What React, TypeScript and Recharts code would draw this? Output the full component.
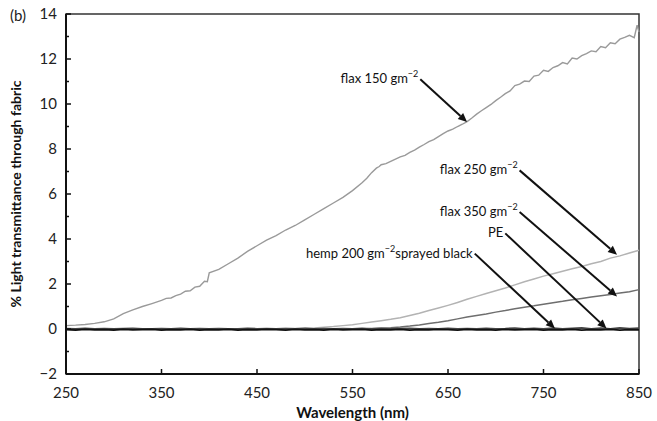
import React from 'react';
import { LineChart, Line, XAxis, YAxis, ReferenceArea, ReferenceLine } from 'recharts';

// wavelength grid (nm)
const wavelengths = [
  250, 260, 270, 280, 290, 300, 310, 320, 330, 340, 350, 360, 370, 380, 390, 400,
  410, 420, 430, 440, 450, 460, 470, 480, 490, 500, 510, 520, 530, 540, 550, 560,
  570, 580, 590, 600, 610, 620, 630, 640, 650, 660, 670, 680, 690, 700, 710, 720,
  730, 740, 750, 760, 770, 780, 790, 800, 810, 820, 830, 840, 850,
];

// flax 150 is noisier, so it is read at a finer step
const wavelengths150 = [
  250, 260, 270, 280, 290, 300, 310, 320, 330, 340, 350, 355, 360, 365, 370, 375,
  380, 385, 390, 395, 398, 400, 410, 420, 430, 440, 450, 460, 470, 480, 490, 500,
  510, 520, 530, 540, 550, 560, 565, 570, 575, 578, 580, 585, 590, 595, 600, 605,
  610, 615, 620, 625, 630, 635, 640, 645, 650, 655, 660, 665, 670, 675, 680, 685,
  690, 695, 700, 705, 710, 715, 720, 725, 730, 735, 740, 745, 750, 755, 760, 765,
  770, 775, 780, 785, 790, 795, 800, 805, 810, 815, 820, 825, 830, 835, 840, 845,
  848, 850,
];

const flax150 = [
  0.15, 0.17, 0.2, 0.25, 0.32, 0.45, 0.68, 0.85, 1.0, 1.13, 1.27, 1.36, 1.38, 1.48, 1.55, 1.68,
  1.7, 1.86, 1.9, 2.12, 2.1, 2.5, 2.65, 2.9, 3.15, 3.45, 3.7, 3.95, 4.15, 4.4, 4.6, 4.85,
  5.1, 5.35, 5.6, 5.85, 6.15, 6.5, 6.7, 6.95, 7.15, 7.22, 7.3, 7.35, 7.45, 7.55, 7.65, 7.72,
  7.85, 7.95, 8.08, 8.2, 8.33, 8.42, 8.55, 8.68, 8.8, 8.88, 9.0, 9.1, 9.22, 9.38, 9.55, 9.7,
  9.84, 9.98, 10.15, 10.3, 10.46, 10.58, 10.82, 10.88, 11.02, 11.0, 11.24, 11.28, 11.5, 11.45, 11.62, 11.7,
  11.84, 11.78, 12.04, 12.0, 12.15, 12.24, 12.36, 12.32, 12.55, 12.5, 12.72, 12.68, 12.88, 12.96, 13.05, 12.95,
  13.5, 13.2,
];

const flax250 = [
  0, 0, 0, 0, 0, 0, 0, 0, 0, 0, 0, 0, 0, 0, 0, 0,
  0, 0, 0, 0, 0, 0.01, 0.01, 0.02, 0.02, 0.03, 0.05, 0.08, 0.11, 0.15, 0.19, 0.25,
  0.31, 0.37, 0.43, 0.5, 0.6, 0.7, 0.82, 0.93, 1.05, 1.18, 1.32, 1.45, 1.58, 1.7, 1.82, 1.96,
  2.1, 2.22, 2.35, 2.46, 2.57, 2.68, 2.78, 2.9, 3.0, 3.15, 3.25, 3.38, 3.5,
];

const flax350 = [
  0, 0, 0, 0, 0, 0, 0, 0, 0, 0, 0, 0, 0, 0, 0, 0,
  0, 0, 0, 0, 0, 0, 0, 0, 0, 0, 0, 0, 0, 0, 0, 0,
  0.02, 0.04, 0.06, 0.09, 0.13, 0.18, 0.24, 0.3, 0.37, 0.45, 0.53, 0.6, 0.67, 0.75, 0.82, 0.9,
  0.97, 1.03, 1.1, 1.17, 1.23, 1.3, 1.36, 1.42, 1.48, 1.53, 1.6, 1.66, 1.75,
];

const pe = [
  0.02, 0.0, 0.03, 0.01, 0.02, 0.0, 0.02, 0.03, 0.01, 0.0, 0.02, 0.01, 0.03, 0.0, 0.02, 0.01,
  0.02, 0.0, 0.01, 0.03, 0.01, 0.02, 0.0, 0.02, 0.01, 0.03, 0.0, 0.02, 0.01, 0.02, 0.0, 0.03,
  0.01, 0.02, 0.0, 0.02, 0.03, 0.01, 0.02, 0.0, 0.03, 0.01, 0.02, 0.0, 0.03, 0.01, 0.02, 0.04,
  0.0, 0.03, 0.01, 0.04, 0.0, 0.03, 0.05, 0.01, 0.04, 0.0, 0.05, 0.02, 0.04,
];

const hemp = [
  -0.03, -0.05, -0.02, -0.04, -0.03, -0.05, -0.02, -0.04, -0.03, -0.02, -0.05, -0.03, -0.04, -0.02, -0.05, -0.03,
  -0.04, -0.02, -0.05, -0.03, -0.04, -0.02, -0.03, -0.05, -0.02, -0.04, -0.03, -0.05, -0.02, -0.04, -0.03, -0.02,
  -0.05, -0.03, -0.04, -0.02, -0.05, -0.03, -0.04, -0.02, -0.03, -0.05, -0.02, -0.04, -0.03, -0.05, -0.02, -0.04,
  -0.03, -0.02, -0.05, -0.03, -0.04, -0.02, -0.05, -0.03, -0.04, -0.02, -0.05, -0.03, -0.04,
];

const xTicks = [250, 350, 450, 550, 650, 750, 850];
const yTicks = [-2, -1, 0, 1, 2, 3, 4, 5, 6, 7, 8, 9, 10, 11, 12, 13, 14];

// annotations: label, arrow start (wavelength, %), arrow end (wavelength, %)
const annotations = [
  { pre: 'flax 150 gm', post: '', start: [621, 11.1], end: [670, 9.2] },
  { pre: 'flax 250 gm', post: '', start: [725, 7.05], end: [827, 3.3] },
  { pre: 'flax 350 gm', post: '', start: [725, 5.2], end: [827, 1.45] },
  { pre: 'PE', post: '', start: [710, 4.25], end: [816, 0.02], noSup: true },
  { pre: 'hemp 200 gm', post: 'sprayed black', start: [678, 3.35], end: [762, 0.02] },
];

const data = wavelengths.map((w, i) => ({
  w,
  flax250: flax250[i],
  flax350: flax350[i],
  pe: pe[i],
  hemp: hemp[i],
}));

const data150 = wavelengths150.map((w, i) => ({ w, flax150: flax150[i] }));

const FONT = 'Lato, "Open Sans", sans-serif';
const TICK_GAP = 9;

const YTick = (props: any) => {
  const { x, y, payload } = props;
  const major = payload.value % 2 === 0;
  const axisX = x + TICK_GAP;
  const label = payload.value < 0 ? '\u2212' + Math.abs(payload.value) : String(payload.value);
  return (
    <g>
      <line x1={axisX} y1={y} x2={axisX + (major ? 5 : 3)} y2={y} stroke="#111" strokeWidth={1.5} />
      {major && (
        <text x={x} y={y} dy={5} textAnchor="end" fontSize={15} fill="#222" fontFamily={FONT}>
          {label}
        </text>
      )}
    </g>
  );
};

const XTick = (props: any) => {
  const { x, y, payload } = props;
  const axisY = y - 14;
  return (
    <g>
      <line x1={x} y1={axisY} x2={x} y2={axisY - 5} stroke="#111" strokeWidth={1.5} />
      <text x={x} y={y} dy={10} textAnchor="middle" fontSize={15} fill="#222" fontFamily={FONT}>
        {payload.value}
      </text>
    </g>
  );
};

const makeArrow = (a: any) => (props: any) => {
  const { x1, y1, x2, y2 } = props;
  const ang = Math.atan2(y2 - y1, x2 - x1);
  const len = 9;
  const hw = 4;
  const bx = x2 - len * Math.cos(ang);
  const by = y2 - len * Math.sin(ang);
  const px = -Math.sin(ang) * hw;
  const py = Math.cos(ang) * hw;
  return (
    <g>
      <line x1={x1} y1={y1} x2={bx} y2={by} stroke="#111" strokeWidth={2} />
      <polygon points={`${x2},${y2} ${bx + px},${by + py} ${bx - px},${by - py}`} fill="#111" />
      <text x={x1 - 2} y={y1 + 4} textAnchor="end" fontSize={13} fill="#111" fontFamily={FONT}>
        {a.pre}
        {!a.noSup && (
          <tspan fontSize={9} dy={-6}>
            {'\u22122'}
          </tspan>
        )}
        {a.post && <tspan dy={6}>{a.post}</tspan>}
      </text>
    </g>
  );
};

export default function App() {
  return (
    <div style={{ position: 'absolute', left: 0, top: 0, width: 657, height: 421, background: '#fff' }}>
      <div style={{ position: 'absolute', left: 10, top: 6, fontFamily: FONT, fontSize: 15, color: '#222' }}>(b)</div>
      <LineChart width={657} height={421} data={data} margin={{ top: 14, right: 18, bottom: 0, left: 0 }}>
        <XAxis
          dataKey="w"
          type="number"
          domain={[250, 850]}
          ticks={xTicks}
          height={47}
          tickSize={0}
          tickMargin={14}
          axisLine={{ stroke: '#111', strokeWidth: 2 }}
          tickLine={false}
          tick={<XTick />}
          label={{ value: 'Wavelength (nm)', position: 'insideBottom', offset: 3, style: { fontSize: 15, fontWeight: 700, fill: '#111', fontFamily: FONT } }}
        />
        <YAxis
          type="number"
          domain={[-2, 14]}
          ticks={yTicks}
          width={66}
          interval={0}
          tickSize={0}
          tickMargin={TICK_GAP}
          axisLine={{ stroke: '#111', strokeWidth: 2 }}
          tickLine={false}
          tick={<YTick />}
          label={{ value: '% Light transmittance through fabric', angle: -90, position: 'insideLeft', offset: 16, style: { textAnchor: 'middle', fontSize: 14, fontWeight: 700, fill: '#111', fontFamily: FONT } }}
        />
        <ReferenceArea x1={250} x2={850} y1={-2} y2={14} fill="none" stroke="#333" strokeWidth={1.5} />
        <Line data={data150} dataKey="flax150" stroke="#9a9a9a" strokeWidth={1.4} dot={false} isAnimationActive={false} />
        <Line dataKey="flax250" stroke="#b3b3b3" strokeWidth={1.5} dot={false} isAnimationActive={false} />
        <Line dataKey="flax350" stroke="#6e6e6e" strokeWidth={1.5} dot={false} isAnimationActive={false} />
        <Line dataKey="pe" stroke="#444" strokeWidth={1.8} dot={false} isAnimationActive={false} />
        <Line dataKey="hemp" stroke="#111" strokeWidth={1.8} dot={false} isAnimationActive={false} />
        {annotations.map((a, i) => (
          <ReferenceLine
            key={i}
            segment={[{ x: a.start[0], y: a.start[1] }, { x: a.end[0], y: a.end[1] }]}
            ifOverflow="visible"
            shape={makeArrow(a)}
          />
        ))}
      </LineChart>
    </div>
  );
}
